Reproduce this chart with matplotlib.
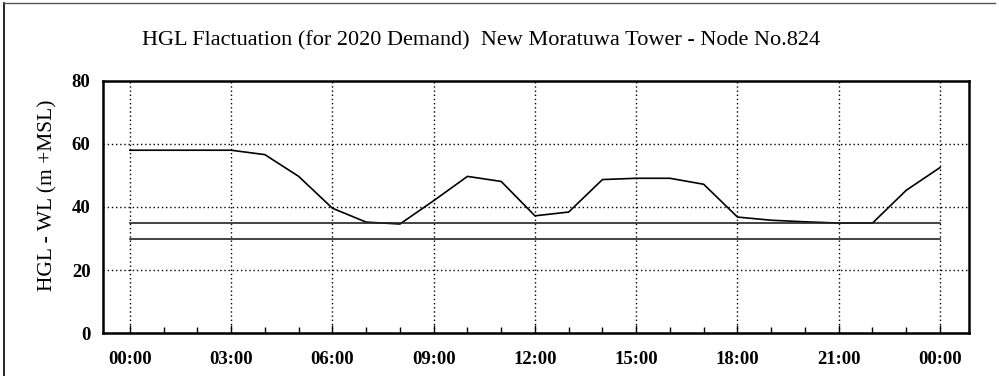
import matplotlib
matplotlib.use("Agg")
import matplotlib.pyplot as plt
from matplotlib.lines import Line2D
import numpy as np

# ---- data ----
hours = list(range(0, 25))
hgl = [58, 58, 58, 58, 56.6, 49.7, 39.6, 35.2, 34.6, 42.0, 49.7, 48.1, 37.2,
       38.4, 48.7, 49.1, 49.1, 47.2, 36.8, 35.8, 35.3, 34.9, 34.9, 45.3, 52.5]
level_upper = 35
level_lower = 30
xtick_pos = [0, 3, 6, 9, 12, 15, 18, 21, 24]
xtick_labels = ["00:00", "03:00", "06:00", "09:00", "12:00", "15:00", "18:00", "21:00", "00:00"]
yticks = [0, 20, 40, 60, 80]
title = "HGL Flactuation (for 2020 Demand)  New Moratuwa Tower - Node No.824"
ylabel = "HGL - WL (m +MSL)"

plt.rcParams['font.family'] = ['Liberation Serif', 'DejaVu Serif']

fig = plt.figure(figsize=(9.99, 3.76), dpi=100)
ax = fig.add_axes([0.103, 0.114, 0.867, 0.671])

ax.plot(hours, hgl, color='black', lw=1.2, zorder=3)
ax.plot([hours[0], hours[-1]], [level_upper, level_upper], color='#222222', lw=1.2, zorder=3)
ax.plot([hours[0], hours[-1]], [level_lower, level_lower], color='#222222', lw=1.2, zorder=3)

ax.set_xlim(-0.8, 24.86)
ax.set_ylim(0, 80)
ax.set_xticks(xtick_pos)
ax.set_xticklabels(xtick_labels)
ax.set_xticks(hours, minor=True)
ax.set_yticks(yticks)
ax.tick_params(axis='x', which='major', direction='in', length=6, width=1, pad=13, labelsize=13.5)
ax.tick_params(axis='x', which='minor', direction='in', length=4, width=1)
ax.tick_params(axis='y', which='major', direction='in', length=0, pad=9, labelsize=13.5)
for lab in ax.get_xticklabels() + ax.get_yticklabels():
    lab.set_fontweight('bold')

ax.grid(True, which='major', color='black', linestyle=(0, (1, 2)), lw=1.0)
for s in ax.spines.values():
    s.set_linewidth(1.8)

ax.set_ylabel(ylabel, fontsize=15.5)
ax.yaxis.set_label_coords(-0.052, 0.548)
fig.text(0.482, 0.891, title, ha='center', va='center', fontsize=16)

# outer scanned frame
fig.add_artist(Line2D([0.004, 0.004], [0.0, 0.992], transform=fig.transFigure, color='black', lw=1.2))
fig.add_artist(Line2D([0.004, 0.996], [0.992, 0.992], transform=fig.transFigure, color='#555555', lw=1.0))

fig.savefig("out.png", dpi=100)
